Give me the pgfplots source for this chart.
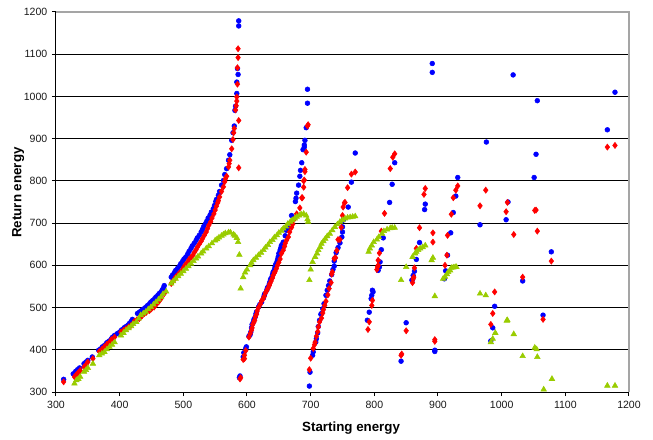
\documentclass[border=0pt]{standalone}
\usepackage{pgfplots}
\pgfplotsset{compat=1.18}
\usepackage{fontspec}
\setmainfont{Liberation Sans}

\definecolor{serblue}{RGB}{0,0,255}
\definecolor{serred}{RGB}{255,0,0}
\definecolor{sergreen}{RGB}{153,204,0}
\definecolor{framegray}{RGB}{165,165,165}

\begin{document}
\begin{tikzpicture}
\useasboundingbox (-42pt,-35.25pt) rectangle (447.75pt,294pt);
\begin{axis}[
  at={(0,0)}, anchor=south west,
  scale only axis, width=429.75pt, height=285pt,
  xmin=300, xmax=1200, ymin=300, ymax=1200,
  xtick={300,400,...,1200}, ytick={300,400,...,1200},
  axis x line*=bottom, axis y line*=left,
  axis line style={black, line width=0.75pt, -},
  tick align=outside, major tick length=3pt,
  tick style={black, line width=0.75pt},
  ymajorgrids, grid style={black, line width=0.7pt},
  /pgf/number format/assume math mode=true,
  /pgf/number format/1000 sep={},
  tick label style={font=\fontsize{7.9}{9}\selectfont, text=black!90},
  xlabel={Starting energy}, ylabel={Return energy},
  label style={font=\fontsize{10}{12}\selectfont\bfseries},
  xlabel style={at={(axis description cs:0.515,-0.095)}, anchor=center},
  ylabel style={at={(axis description cs:-0.066,0.525)}, anchor=center},
  clip=false,
]
% blue series: circles
\addplot[only marks, mark=*, mark size=1.8pt, color=serblue] coordinates {
(312,330) (327,343) (331,349) (334,353) (337,357) (344,367) (347,371) (350,375) (357,383)
(367,399) (370,402) (373,407) (376,410) (379,415) (381,418) (384,421) (387,426) (389,430) (392,434)
(396,438) (400,442) (403,447) (407,452) (410,455) (413,458) (415,462) (418,467) (420,472)
(428,486) (431,489) (433,491) (435,494) (438,497) (441,501) (444,505) (447,509) (449,513) (452,517) (455,521) (457,525) (460,529) (462,533) (465,537) (467,542) (469,547) (470,552)
(481,572) (483,577) (486,583) (488,588) (491,593) (494,598) (496,604) (499,610) (501,615) (504,620) (507,627) (509,633) (512,640) (514,646) (517,652) (520,659) (522,665) (525,671) (528,679) (530,685) (532,692) (535,699) (537,705) (539,712) (542,719) (544,726) (547,734) (549,742) (551,751) (552,756) (555,766) (557,775) (560,790) (563,801) (565,815) (568,829) (571,849) (573,862) (576,896) (578,914) (580,930) (581,967) (582,977) (584,1007) (584,1034) (586,1052) (585,1066) (587,1167) (587,1179)
(588,334) (589,338) (594,383) (595,393) (598,403) (599,407) (603,432) (605,436) (606,442) (607,452) (608,460) (610,466) (611,472) (613,478) (614,485) (615,490) (618,501) (620,507) (623,513) (626,523) (627,529) (628,533) (631,541) (632,546) (633,549) (635,556) (636,561) (637,567) (639,572) (640,578) (641,584) (643,590) (644,596) (645,602) (647,608) (648,614) (649,620) (650,628) (652,636) (653,641) (654,647) (656,651) (657,655) (660,670) (662,683) (665,691) (667,700) (670,718) (676,751) (677,759) (678,771) (681,790) (683,811) (684,825) (686,843) (688,874) (690,880) (690,885) (691,896) (693,926) (695,984) (695,1017)
(698,314) (699,347) (703,387) (704,395) (708,418) (709,426) (711,440) (712,455) (714,470) (716,484) (717,486) (719,497) (721,509) (724,529) (726,541) (728,552) (730,563) (733,578) (735,590) (737,598) (737,610) (738,617) (740,630) (743,642) (746,653) (749,667) (750,679) (750,691) (751,707) (759,738) (764,797) (770,866)
(789,470) (792,489) (795,521) (796,529) (797,541) (798,537) (806,588) (808,596) (809,608) (811,637) (814,665) (824,749) (828,792) (832,843)
(842,373) (850,464) (859,565) (860,566) (861,576) (863,586) (866,614) (871,654) (879,732) (880,745)
(891,1057) (891,1078) (895,396) (895,399) (910,568) (912,587) (915,624) (920,677) (924,725) (928,764) (931,808)
(966,696) (976,892) (983,421) (986,452) (989,503) (1007,708) (1010,750) (1018,1051) (1033,563) (1051,808) (1054,863) (1056,990) (1065,482) (1078,632) (1166,921) (1178,1010)
};
% red series: diamonds
\addplot[only marks, mark=diamond*, mark size=2.3pt, color=serred] coordinates {
(312,324) (329,336) (332,341) (335,346) (338,351) (344,359) (347,364) (350,371) (358,379)
(368,396) (372,401) (376,407) (380,413) (384,418) (387,424) (392,430)
(402,442) (406,446) (410,450) (414,454) (418,458) (423,467) (427,471) (431,474) (435,480) (439,486) (442,489) (447,493) (450,497) (454,501) (458,508) (462,515) (466,523) (470,533)
(481,557) (483,561) (486,567) (488,572) (491,577) (494,582) (498,588) (500,594) (503,601) (507,608) (509,614) (512,619) (515,624) (517,630) (520,637) (522,643) (525,650) (528,657) (530,663) (533,671) (536,679) (538,687) (540,695) (543,703) (545,712) (548,722) (550,731) (552,740) (554,748) (555,753) (557,762) (560,775) (563,786) (565,798) (566,805) (568,811) (571,833) (572,841) (573,849) (576,876) (578,898) (579,914) (580,924) (582,968) (583,978) (584,989) (584,999) (585,1029) (585,1068) (586,1092) (586,1113) (587,831) (587,943)
(589,331) (590,334) (594,377) (596,379) (596,387) (598,398) (603,430) (605,438) (607,446) (608,452) (609,460) (611,466) (612,470) (613,478) (615,484) (616,492) (618,500) (621,508) (623,516) (625,520) (627,526) (629,535) (631,540) (633,546) (635,552) (636,557) (638,563) (640,570) (641,576) (643,582) (644,585) (646,592) (648,600) (650,607) (652,615) (654,628) (657,636) (659,645) (660,652) (662,659) (665,667) (667,679) (670,690) (672,698) (675,711) (678,722) (683,736) (686,760) (687,760) (689,785) (689,800) (690,802) (691,822) (691,827) (693,868) (695,930) (696,933)
(698,353) (700,380) (704,403) (706,412) (707,418) (709,432) (711,443) (712,454) (714,466) (717,475) (719,487) (720,495) (722,505) (724,515) (727,530) (729,545) (732,559) (733,579) (734,584) (737,616) (739,618) (741,635) (743,661) (746,661) (748,690) (750,718) (751,738) (753,748) (754,749) (758,784) (764,816) (770,821)
(790,448) (792,466) (796,505) (797,517) (804,590) (805,596) (806,600) (806,612) (808,629) (811,681) (816,723) (825,829) (829,856) (832,864)
(842,387) (843,390) (850,445) (860,559) (861,568) (862,572) (863,594) (866,640) (871,689) (878,768) (880,782)
(892,655) (892,677) (895,420) (895,424) (911,600) (914,624) (915,671) (921,721) (924,760) (928,778) (931,788)
(966,741) (975,778) (983,460) (986,486) (989,537) (1007,727) (1009,749) (1019,673) (1033,572) (1052,730) (1054,731) (1056,681) (1065,472) (1078,610) (1166,880) (1178,884)
};
% green series: triangles
\addplot[only marks, mark=triangle*, mark size=2.4pt, color=sergreen] coordinates {
(329,320) (332,328) (335,331) (338,336) (344,348) (347,352) (350,357) (358,367)
(368,387) (372,391) (376,395) (380,401) (384,407) (388,412) (392,418)
(402,434) (406,440) (410,446) (414,451) (418,456) (421,461) (426,466) (430,474) (433,482) (437,486) (441,490) (445,496) (449,501) (453,507) (457,513) (461,519) (465,525) (468,532) (473,538)
(481,557) (484,562) (488,568) (492,574) (496,580) (500,586) (504,592) (508,598) (512,604) (516,610) (520,616) (523,621) (528,628) (531,633) (536,640) (540,645) (545,652) (550,659) (553,662) (556,666) (560,670) (563,673) (566,676) (571,678) (574,678) (579,673) (581,670) (584,665) (586,655) (588,625)
(590,545) (594,572) (597,583) (600,590) (605,600) (607,606) (610,612) (614,618) (618,624) (622,630) (626,636) (629,642) (633,648) (636,655) (640,660) (643,666) (647,671) (650,677) (654,682) (657,687) (661,692) (664,698) (668,703) (671,707) (675,711) (678,715) (682,718) (685,721) (689,722) (693,718) (695,709) (696,703)
(698,565) (700,590) (703,608) (707,620) (710,628) (712,636) (715,643) (717,651) (720,657) (723,663) (726,669) (730,675) (734,683) (738,691) (742,697) (746,703) (750,707) (754,711) (758,713) (762,714) (766,715) (770,716)
(791,632) (793,640) (796,647) (799,655) (804,661) (807,667) (812,675) (815,681) (820,685) (825,688) (828,689) (832,689)
(842,565) (850,596) (860,620) (864,628) (866,632) (869,636) (872,640) (876,643) (880,647)
(890,612) (892,618) (895,527) (908,568) (911,573) (914,579) (916,584) (919,588) (921,594) (924,595) (927,596) (929,596)
(966,533) (975,529) (983,418) (986,426) (990,440) (1008,469) (1009,470) (1019,437) (1033,385) (1052,405) (1055,401) (1056,383) (1066,306) (1079,331) (1166,315) (1178,315)
};
% plot-area border on the top and right sides
\draw[framegray, line width=0.9pt] (rel axis cs:0,1) -- (rel axis cs:1,1) -- (rel axis cs:1,0);
\end{axis}
\end{tikzpicture}
\end{document}
